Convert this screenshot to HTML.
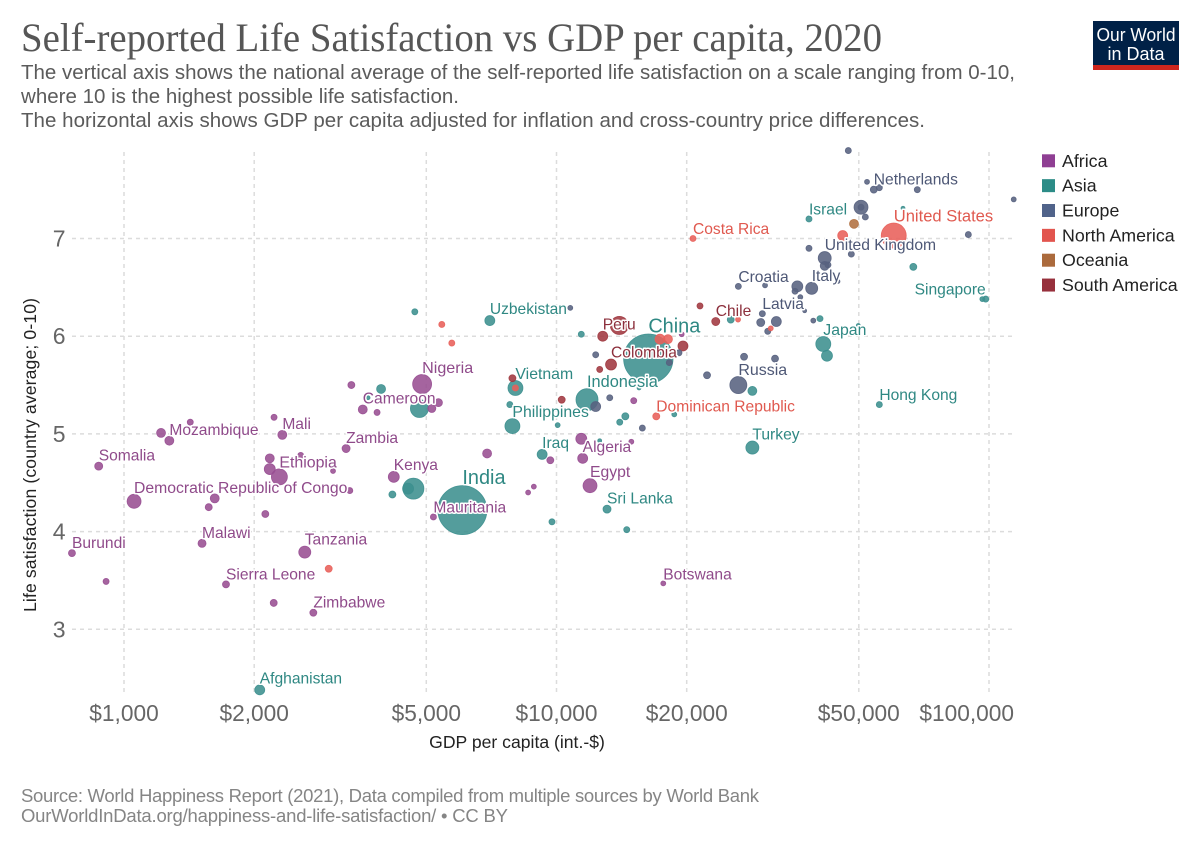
<!DOCTYPE html>
<html lang="en">
<head>
<meta charset="utf-8">
<title>Self-reported Life Satisfaction vs GDP per capita, 2020</title>
<style>
  html, body { margin: 0; padding: 0; background: #fff; }
  #chart { display: block; width: 1200px; height: 847px; font-family: "Liberation Sans", sans-serif; }
  .country-label { paint-order: stroke; stroke: #fff; stroke-width: 3px; stroke-linejoin: round; }
</style>
</head>
<body>
<svg id="chart" xmlns="http://www.w3.org/2000/svg" width="1200" height="847" viewBox="0 0 1200 847">
  <rect x="0" y="0" width="1200" height="847" fill="#fff"/>
  <text x="21" y="51" font-family="'Liberation Serif', serif" font-size="40" fill="#565656" textLength="861" lengthAdjust="spacingAndGlyphs">Self-reported Life Satisfaction vs GDP per capita, 2020</text>
  <g font-size="20.5" fill="#5b5b5b">
    <text x="21" y="79" textLength="994">The vertical axis shows the national average of the self-reported life satisfaction on a scale ranging from 0-10,</text>
    <text x="21" y="103" textLength="438">where 10 is the highest possible life satisfaction.</text>
    <text x="21" y="127" textLength="904">The horizontal axis shows GDP per capita adjusted for inflation and cross-country price differences.</text>
  </g>
  <g>
    <rect x="1093" y="21" width="86" height="49" fill="#002147"/>
    <rect x="1093" y="65" width="86" height="5" fill="#ce261e"/>
    <text x="1136" y="41" text-anchor="middle" font-size="18" fill="#fff" textLength="79" lengthAdjust="spacingAndGlyphs">Our World</text>
    <text x="1136" y="60" text-anchor="middle" font-size="18" fill="#fff">in Data</text>
  </g>
  <g id="grid"></g>
  <g id="axis-labels"></g>
  <g id="points"></g>
  <g id="labels"></g>
  <text x="517" y="748" text-anchor="middle" font-size="17.6" fill="#222">GDP per capita (int.-$)</text>
  <text transform="translate(36,455) rotate(-90)" text-anchor="middle" font-size="17.6" fill="#222" textLength="314">Life satisfaction (country average; 0-10)</text>
  <g id="legend"></g>
  <text x="21" y="802" font-size="18.5" fill="#858585" textLength="738">Source: World Happiness Report (2021), Data compiled from multiple sources by World Bank</text>
  <text x="21" y="822" font-size="18.5" fill="#858585" textLength="487">OurWorldInData.org/happiness-and-life-satisfaction/ • CC BY</text>
</svg>
<script>
// ---- Chart data ----
const regions = ["Africa", "Asia", "Europe", "North America", "Oceania", "South America"];
const xTickValues = [1000, 2000, 5000, 10000, 20000, 50000, 100000];
const xTickLabels = ["$1,000", "$2,000", "$5,000", "$10,000", "$20,000", "$50,000", "$100,000"];
const yTickValues = [3, 4, 5, 6, 7];
const yTickLabels = ["3", "4", "5", "6", "7"];

const africaGdp = [874,1055,758,909,1218,1273,1423,2323,2223,2173,2562,3262,2173,2287,3043,4205,1621,1570,3327,2122,1515,2618,1721,2219,2740,3355,3565,3847,4890,5333,5149,6911,11411,11496,9676,14894,15086,11953,8863,8598,5193,17655,19473];
const africaLife = [4.67,4.31,3.78,3.49,5.01,4.93,5.12,4.99,5.17,4.75,4.78,4.85,4.64,4.56,4.62,4.56,4.34,4.25,4.42,4.18,3.88,3.79,3.46,3.27,3.17,5.50,5.25,5.22,5.51,5.32,5.26,4.80,4.95,4.75,4.73,4.92,5.34,4.47,4.46,4.40,4.15,3.47,6.02];
const africaPopulation = [37,112,28,21,46,46,21,46,21,46,21,37,69,147,14,69,46,28,21,28,37,83,28,28,28,28,46,21,207,37,37,46,69,57,28,14,21,112,14,14,21,14,14];
const africaLabels = ["Somalia","Democratic Republic of Congo","Burundi","","","Mozambique","","Mali","","","","Zambia","","Ethiopia","","Kenya","","","","","Malawi","Tanzania","Sierra Leone","","Zimbabwe","","Cameroon","","Nigeria","","","","","Algeria","","","","Egypt","","","Mauritania","Botswana",""];

const asiaGdp = [2060,3930,3667,4174,4703,7012,11411,25286,16304,28370,8036,4820,7800,7908,11763,10062,14426,14002,18720,15519,12586,9264,28370,4668,4538,6059,13086,9762,14535,38350,66834,40665,96514,98270,49866,41387,42209,55771,63270];
const asiaLife = [2.38,5.46,5.37,4.38,6.25,6.16,6.02,6.17,5.77,5.44,5.47,5.26,5.30,5.08,5.35,5.09,5.18,5.12,5.20,5.47,4.93,4.79,4.86,4.44,4.44,4.22,4.23,4.10,4.02,7.20,6.71,6.18,6.38,6.38,6.11,5.92,5.80,5.30,7.31];
const asiaPopulation = [57,46,9,28,21,57,21,28,1400,46,129,186,21,129,278,14,28,21,14,9,9,57,97,253,69,1378,37,21,21,21,28,21,14,21,9,129,69,21,9];
const asiaLabels = ["Afghanistan","","","","","Uzbekistan","","","China","","Vietnam","","","Philippines","Indonesia","","","","","","","Iraq","Turkey","","","India","Sri Lanka","","","Israel","","","","Singapore","","Japan","","Hong Kong",""];

const europeGdp = [10762,12320,13277,12320,15794,18229,19195,22287,27143,32009,26330,29916,29663,32232,30790,26330,30350,36043,38910,35607,36623,37481,44755,39241,41700,41700,42430,38350,48046,89580,47283,52235,54150,55771,68272,114070,50593,50593,51766];
const europeLife = [6.29,5.81,5.37,5.28,5.06,5.73,5.83,5.60,5.79,5.77,5.50,6.23,6.14,6.15,6.05,6.51,6.52,6.51,6.49,6.46,6.40,6.26,6.56,6.16,6.80,6.72,6.73,6.90,6.84,7.04,7.90,7.58,7.50,7.52,7.50,7.40,7.32,7.32,7.22];
const europePopulation = [14,21,21,57,21,21,21,28,28,28,166,21,37,57,21,21,14,69,83,21,14,9,9,14,97,46,21,21,21,21,21,14,28,21,21,14,112,21,21];
const europeLabels = ["","","","","","","","","","","Russia","Latvia","","","","Croatia","","","Italy","","","","","","United Kingdom","","","","","","","","Netherlands","","","","","",""];

const northAmericaGdp = [2974,5430,5727,8036,20680,17347,18102,17009,31286,45889,60222,26289];
const northAmericaLife = [3.62,6.12,5.93,5.47,7.00,5.97,5.97,5.18,6.08,7.03,7.03,6.17];
const northAmericaPopulation = [28,21,21,21,21,57,46,28,14,57,359,14];
const northAmericaLabels = ["","","","","Costa Rica","","","Dominican Republic","","","United States",""];

const oceaniaGdp = [48735];
const oceaniaLife = [7.15];
const oceaniaPopulation = [46];
const oceaniaLabels = [""];

const southAmericaGdp = [7908,10281,13973,12791,13369,12586,19608,23345,21466];
const southAmericaLife = [5.57,5.35,6.11,6.00,5.71,5.66,5.90,6.15,6.31];
const southAmericaPopulation = [28,28,186,57,69,21,57,37,21];
const southAmericaLabels = ["","","","Peru","Colombia","","","Chile",""];

// ---- Rendering ----
const regionColors = ["#984e92", "#3c8f8e", "#586280", "#e8605a", "#b07040", "#a03840"];
const legendColors = ["#8f3f93", "#2c8c87", "#50638a", "#e2554e", "#ab6a3c", "#97303c"];
const labelColors = ["#8f4a8a", "#2f8883", "#4e5876", "#e0594f", "#9a5129", "#8c2f3c"];
const gdpByRegion = [africaGdp, asiaGdp, europeGdp, northAmericaGdp, oceaniaGdp, southAmericaGdp];
const lifeByRegion = [africaLife, asiaLife, europeLife, northAmericaLife, oceaniaLife, southAmericaLife];
const populationByRegion = [africaPopulation, asiaPopulation, europePopulation, northAmericaPopulation, oceaniaPopulation, southAmericaPopulation];
const labelsByRegion = [africaLabels, asiaLabels, europeLabels, northAmericaLabels, oceaniaLabels, southAmericaLabels];

const SVG_NS = "http://www.w3.org/2000/svg";
const xScale = function (g) { return 124 + 432.5 * (Math.log10(g) - 3); };
const yScale = function (v) { return 629.3 - 97.7 * (v - 3); };
const radiusScale = function (p) { return 0.66 * Math.sqrt(p); };
const labelSize = function (r) { return r > 20 ? 19.9 : 15.6 + 0.15 * Math.max(0, r - 6); };

const gridGroup = document.getElementById("grid");
const axisGroup = document.getElementById("axis-labels");
const pointsGroup = document.getElementById("points");
const labelsGroup = document.getElementById("labels");
const legendGroup = document.getElementById("legend");

function setAttrs(el, attrs) {
  Object.keys(attrs).forEach(function (k) { el.setAttribute(k, attrs[k]); });
}

yTickValues.forEach(function (v, i) {
  const line = document.createElementNS(SVG_NS, "line");
  
  
  setAttrs(line, { x1: 72, x2: 1014, y1: yScale(v), y2: yScale(v), stroke: "#dcdcdc", "stroke-width": 1.5, "stroke-dasharray": "4,4" });
  gridGroup.appendChild(line);
  const tick = document.createElementNS(SVG_NS, "text");
  
  
  setAttrs(tick, { x: 65.5, y: yScale(v) + 8, "text-anchor": "end", "font-size": 23, fill: "#666" });
  tick.textContent = yTickLabels[i];
  axisGroup.appendChild(tick);
});

xTickValues.forEach(function (g, i) {
  const line = document.createElementNS(SVG_NS, "line");
  
  
  setAttrs(line, { x1: xScale(g), x2: xScale(g), y1: 152, y2: 692, stroke: "#dcdcdc", "stroke-width": 1.5, "stroke-dasharray": "4,4" });
  gridGroup.appendChild(line);
  const tick = document.createElementNS(SVG_NS, "text");
  
  
  setAttrs(tick, { x: xScale(g), y: 721, "text-anchor": "middle", "font-size": 22.7, fill: "#666" });
  tick.textContent = xTickLabels[i];
  axisGroup.appendChild(tick);
  const box = tick.getBBox();
  if (box.x + box.width > 1014) {
    tick.setAttribute("x", xScale(g) - (box.x + box.width - 1014));
  }
});

const marks = [];
regions.forEach(function (name, ri) {
  gdpByRegion[ri].forEach(function (g, i) {
    marks.push({ region: ri, gdp: g, life: lifeByRegion[ri][i], population: populationByRegion[ri][i], label: labelsByRegion[ri][i] });
  });
});
marks.sort(function (a, b) { return b.population - a.population; });

marks.forEach(function (m) {
  const cx = xScale(m.gdp);
  const cy = yScale(m.life);
  const r = radiusScale(m.population);
  const dot = document.createElementNS(SVG_NS, "circle");
  
  
  setAttrs(dot, { cx: cx, cy: cy, r: r, fill: regionColors[m.region], "fill-opacity": 0.88, stroke: regionColors[m.region], "stroke-opacity": 0.9, "stroke-width": 0.8 });
  pointsGroup.appendChild(dot);
});

marks.forEach(function (m) {
  if (!m.label) { return; }
  const cx = xScale(m.gdp);
  const cy = yScale(m.life);
  const r = radiusScale(m.population);
  const label = document.createElementNS(SVG_NS, "text");
  
  
  setAttrs(label, { x: cx, y: cy - r - 1.5, "font-size": labelSize(r), fill: labelColors[m.region], "class": "country-label", "text-anchor": m.label === "Singapore" ? "end" : "start" });
  label.textContent = m.label;
  labelsGroup.appendChild(label);
});

regions.forEach(function (name, i) {
  const rowY = 154.3 + i * 24.85;
  const swatch = document.createElementNS(SVG_NS, "rect");
  
  
  setAttrs(swatch, { x: 1042, y: rowY, width: 13, height: 13, fill: legendColors[i] });
  legendGroup.appendChild(swatch);
  const text = document.createElementNS(SVG_NS, "text");
  
  
  setAttrs(text, { x: 1062, y: rowY + 12.5, "font-size": 17.8, fill: "#222" });
  text.textContent = name;
  legendGroup.appendChild(text);
});
</script>
</body>
</html>
